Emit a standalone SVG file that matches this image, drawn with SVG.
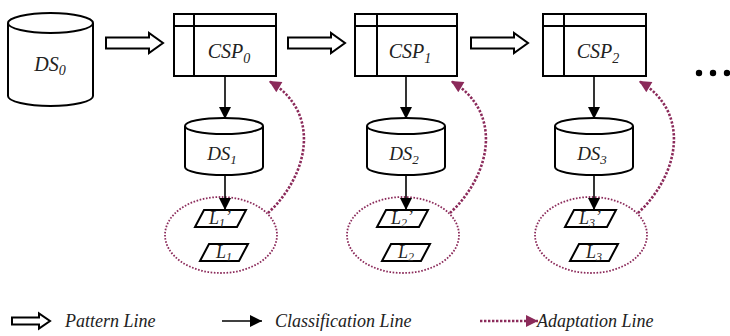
<svg xmlns="http://www.w3.org/2000/svg" width="730" height="336" viewBox="0 0 730 336">
<defs>
<style>
.shape{fill:#fff;stroke:#000;stroke-width:2}
.thin{fill:none;stroke:#000;stroke-width:2}
.lbl{font-family:"Liberation Serif","Times New Roman",serif;font-style:italic;fill:#222}
.big{font-size:20px}
.mid{font-size:19px}
.leg{font-size:18px}
.sm{font-size:18px}
.cls{fill:none;stroke:#000;stroke-width:1.6}
.adp{fill:none;stroke:#8B2A5A;stroke-width:2.6;stroke-dasharray:2.4 1.6}
.grp{fill:none;stroke:#8B2A5A;stroke-width:1.8;stroke-dasharray:1.6 1.6}
.hollow{fill:#fff;stroke:#000;stroke-width:2;stroke-linejoin:miter}
</style>
<marker id="ah" markerWidth="12" markerHeight="12" refX="10" refY="5" orient="auto" markerUnits="userSpaceOnUse" viewBox="0 0 10 10">
<path d="M0,0 L10,5 L0,10 Z" fill="#000"/>
</marker>
<marker id="ap" markerWidth="13" markerHeight="12" refX="10" refY="5" orient="auto" markerUnits="userSpaceOnUse" viewBox="0 0 10 10">
<path d="M0,0 L10,5 L0,10 Z" fill="#8B2A5A"/>
</marker>
</defs>

<!-- DS0 -->
<g id="ds0">
<path class="shape" d="M8,23 L8,96 A42.5,10 0 0 0 93,96 L93,23"/>
<ellipse class="shape" cx="50.5" cy="23" rx="42.5" ry="10"/>
<text class="lbl big" x="50" y="71" text-anchor="middle">DS<tspan dy="4" font-size="14">0</tspan></text>
</g>

<!-- CSP boxes -->
<g id="csp0">
<rect class="shape" x="174" y="14" width="102" height="62"/>
<line class="thin" x1="194" y1="14" x2="194" y2="76"/>
<line class="thin" x1="174" y1="26" x2="276" y2="26"/>
<text class="lbl big" x="229" y="58" text-anchor="middle">CSP<tspan dy="5" font-size="14">0</tspan></text>
</g>
<g id="csp1">
<rect class="shape" x="355" y="14" width="102" height="62"/>
<line class="thin" x1="377" y1="14" x2="377" y2="76"/>
<line class="thin" x1="355" y1="26" x2="457" y2="26"/>
<text class="lbl big" x="410" y="58" text-anchor="middle">CSP<tspan dy="5" font-size="14">1</tspan></text>
</g>
<g id="csp2">
<rect class="shape" x="543" y="14" width="103" height="62"/>
<line class="thin" x1="564" y1="14" x2="564" y2="76"/>
<line class="thin" x1="543" y1="26" x2="646" y2="26"/>
<text class="lbl big" x="598" y="58" text-anchor="middle">CSP<tspan dy="5" font-size="14">2</tspan></text>
</g>

<!-- DS1..3 -->
<g id="ds1">
<path class="shape" d="M185,126 L185,167 A39,8 0 0 0 263,167 L263,126"/>
<ellipse class="shape" cx="224" cy="126" rx="39" ry="8"/>
<text class="lbl mid" x="222" y="160" text-anchor="middle">DS<tspan dy="4" font-size="13">1</tspan></text>
</g>
<g id="ds2">
<path class="shape" d="M367,126 L367,167 A39,8 0 0 0 445,167 L445,126"/>
<ellipse class="shape" cx="406" cy="126" rx="39" ry="8"/>
<text class="lbl mid" x="404" y="160" text-anchor="middle">DS<tspan dy="4" font-size="13">2</tspan></text>
</g>
<g id="ds3">
<path class="shape" d="M555,126 L555,167 A39,8 0 0 0 633,167 L633,126"/>
<ellipse class="shape" cx="594" cy="126" rx="39" ry="8"/>
<text class="lbl mid" x="592" y="160" text-anchor="middle">DS<tspan dy="4" font-size="13">3</tspan></text>
</g>

<!-- L groups -->
<g id="lset1">
<ellipse class="grp" cx="221" cy="235" rx="56" ry="38"/>
<polygon class="shape" points="204,210 246,210 237,227 195,227"/>
<text class="lbl sm" x="220" y="224" text-anchor="middle">L<tspan dy="3" font-size="12">1</tspan><tspan dy="-4">’</tspan></text>
<polygon class="shape" points="209,244 248,244 239,261 200,261"/>
<text class="lbl sm" x="224" y="258" text-anchor="middle">L<tspan dy="3" font-size="12">1</tspan></text>
</g>
<g id="lset2">
<ellipse class="grp" cx="403" cy="235" rx="56" ry="38"/>
<polygon class="shape" points="386,210 428,210 419,227 377,227"/>
<text class="lbl sm" x="402" y="224" text-anchor="middle">L<tspan dy="3" font-size="12">2</tspan><tspan dy="-4">’</tspan></text>
<polygon class="shape" points="391,244 430,244 421,261 382,261"/>
<text class="lbl sm" x="406" y="258" text-anchor="middle">L<tspan dy="3" font-size="12">2</tspan></text>
</g>
<g id="lset3">
<ellipse class="grp" cx="591" cy="235" rx="56" ry="38"/>
<polygon class="shape" points="574,210 616,210 607,227 565,227"/>
<text class="lbl sm" x="590" y="224" text-anchor="middle">L<tspan dy="3" font-size="12">3</tspan><tspan dy="-4">’</tspan></text>
<polygon class="shape" points="579,244 618,244 609,261 570,261"/>
<text class="lbl sm" x="594" y="258" text-anchor="middle">L<tspan dy="3" font-size="12">3</tspan></text>
</g>

<g id="more">
<circle cx="699" cy="73" r="3.2" fill="#000"/>
<circle cx="713" cy="73" r="3.2" fill="#000"/>
<circle cx="727" cy="73" r="3.2" fill="#000"/>
</g>

<!-- connectors -->
<g id="connectors">
<polygon class="hollow" points="106,37.5 149,37.5 149,33 163,43 149,53 149,48.5 106,48.5"/>
<polygon class="hollow" points="288,37.5 331,37.5 331,33 345,43 331,53 331,48.5 288,48.5"/>
<polygon class="hollow" points="471,37.5 514,37.5 514,33 528,43 514,53 514,48.5 471,48.5"/>

<line class="cls" x1="225" y1="76" x2="225" y2="119" marker-end="url(#ah)"/>
<line class="cls" x1="406" y1="76" x2="406" y2="119" marker-end="url(#ah)"/>
<line class="cls" x1="594" y1="76" x2="594" y2="119" marker-end="url(#ah)"/>
<line class="cls" x1="225" y1="175" x2="225" y2="210" marker-end="url(#ah)"/>
<line class="cls" x1="406" y1="175" x2="406" y2="210" marker-end="url(#ah)"/>
<line class="cls" x1="594" y1="175" x2="594" y2="210" marker-end="url(#ah)"/>

<path class="adp" d="M268,213 C309,175 322,112 269,81" marker-end="url(#ap)"/>
<path class="adp" d="M450,213 C491,175 504,112 451,81" marker-end="url(#ap)"/>
<path class="adp" d="M638,213 C679,175 692,112 639,81" marker-end="url(#ap)"/>
</g>

<!-- legend -->
<g id="legend">
<polygon class="hollow" points="12,317.5 39,317.5 39,313.5 50,321 39,328.5 39,324.5 12,324.5"/>
<text class="lbl leg" x="65" y="327">Pattern Line</text>
<line class="cls" x1="222" y1="321" x2="262" y2="321" marker-end="url(#ah)"/>
<text class="lbl leg" x="275" y="327">Classification Line</text>
<line class="adp" x1="480" y1="321" x2="538" y2="321" marker-end="url(#ap)"/>
<text class="lbl leg" x="537" y="327">Adaptation Line</text>
</g>
</svg>
